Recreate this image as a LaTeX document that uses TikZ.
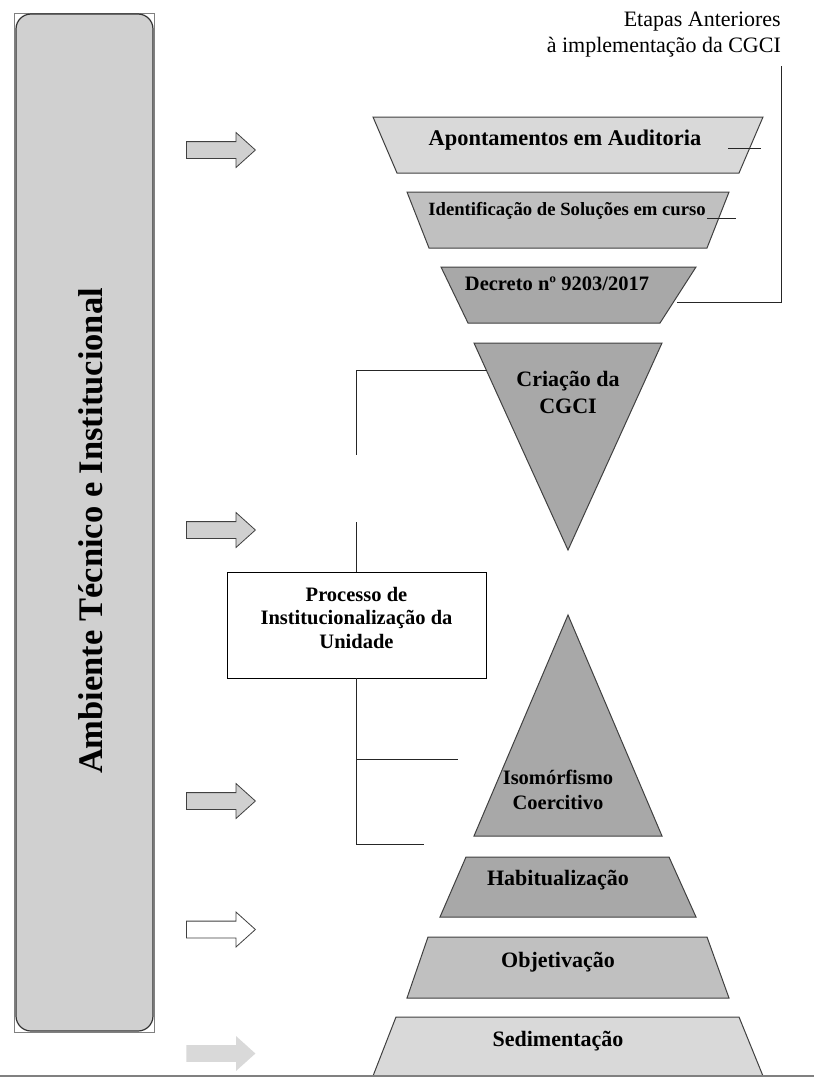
\documentclass[tikz,border=0pt]{standalone}
\usepackage{fontspec}
\setmainfont{Liberation Serif}
\usepackage{tikz}
\definecolor{lg}{RGB}{217, 217, 217}
\definecolor{mg}{RGB}{192, 192, 192}
\definecolor{dg}{RGB}{168, 168, 168}
\definecolor{pg}{RGB}{208, 208, 208}
\definecolor{eg}{RGB}{64, 64, 64}
\usetikzlibrary{positioning}
\usetikzlibrary{shapes.arrows}

\begin{document}
\begin{tikzpicture}[
every node/.style={inner sep=0pt},
stage/.style={line width=1pt, draw=eg},
lbl/.style={font=\bfseries\fontsize{22pt}{27pt}\selectfont, align=center},
blockarr/.style={single arrow, anchor=tail, minimum height=69pt, minimum width=34pt, inner sep=8pt, single arrow head extend=9pt, single arrow tip angle=84, line width=0.8pt, draw=eg, fill=pg},
link/.style={line width=0.9pt, color=black!85}
]
\useasboundingbox (0pt,0pt) rectangle (814pt,-1077pt);
% left panel
\draw [line width=0.5pt, color=gray] (14pt,-13pt) rectangle (154pt,-1032pt);
\filldraw [rounded corners=15pt, fill=pg, draw=black!80, line width=1.2pt] (16pt,-14pt) rectangle (153pt,-1031pt);
\node (amb) [rotate=90, anchor=base, font=\bfseries\fontsize{34.5pt}{40pt}\selectfont] at (102pt,-531pt) {Ambiente Técnico e Institucional};
% arrows
\node (arr1) [blockarr] at (186pt,-150pt) {};
\node (arr2) [blockarr] at (186pt,-530pt) {};
\node (arr3) [blockarr] at (186pt,-801pt) {};
\node (arr4) [blockarr, fill=white] at (186pt,-929.5pt) {};
\node (arr5) [blockarr, draw=none, fill=lg] at (186pt,-1053.5pt) {};
% earlier stages
\filldraw [stage, fill=lg] (373pt,-117pt) -- (763pt,-117pt) -- (739pt,-173pt) -- (397pt,-173pt) -- cycle;
\filldraw [stage, fill=mg] (407pt,-192pt) -- (729pt,-192pt) -- (707pt,-248pt) -- (429pt,-248pt) -- cycle;
\filldraw [stage, fill=dg] (441pt,-267pt) -- (696pt,-267pt) -- (660pt,-323pt) -- (468pt,-323pt) -- cycle;
\node (apont) [lbl, anchor=base, font=\bfseries\fontsize{22.4pt}{27pt}\selectfont] at (565pt,-145pt) {Apontamentos em Auditoria};
\node (ident) [lbl, anchor=base, font=\bfseries\fontsize{18.7pt}{22pt}\selectfont] at (567pt,-215pt) {Identificação de Soluções em curso};
\node (decreto) [lbl, anchor=base, font=\bfseries\fontsize{20.5pt}{24pt}\selectfont] at (557pt,-290pt) {Decreto nº 9203/2017};
\coordinate (apont-m1) at (728pt,-148pt);
\coordinate (apont-m2) at (761pt,-148pt);
\coordinate (ident-m1) at (707pt,-218pt);
\coordinate (ident-m2) at (736pt,-218pt);
\draw [link] (apont-m1) -- (apont-m2);
\draw [link] (ident-m1) -- (ident-m2);
\node (etapas) [anchor=east, align=right, font=\fontsize{22pt}{26pt}\selectfont] at (781pt,-34.5pt) {Etapas Anteriores\\à implementação da CGCI};
\coordinate (etapas-end) at (781pt,-66pt);
\coordinate (dec-e) at (677pt,-302pt);
\draw [link] (etapas-end) |- (dec-e);
% creation
\filldraw [stage, fill=dg] (474pt,-343pt) -- (662pt,-343pt) -- (568pt,-550pt) -- cycle;
\node (criacao) [lbl] at (568pt,-392pt) {Criação da\\CGCI};
% institutionalisation
\node (procbox) [draw=black, line width=0.9pt, minimum width=259pt, minimum height=106pt] at (356.5pt,-625pt) {};
\node (processo) [lbl, font=\bfseries\fontsize{20.5pt}{23.5pt}\selectfont] at (356.5pt,-617.5pt) {Processo de\\Institucionalização da\\Unidade};
\coordinate (cri-w) at (487pt,-370pt);
\coordinate (gap-top) at (356.5pt,-455pt);
\coordinate (gap-bot) at (356.5pt,-522pt);
\draw [link] (cri-w) -| (gap-top);
\draw [link] (gap-bot) -- (procbox.north);
\filldraw [stage, fill=dg] (568pt,-615pt) -- (662pt,-836pt) -- (474pt,-836pt) -- cycle;
\node (isomorf) [lbl, font=\bfseries\fontsize{20.5pt}{25pt}\selectfont] at (558pt,-789.5pt) {Isomórfismo\\Coercitivo};
\coordinate (iso-a) at (458pt,-759pt);
\coordinate (iso-b) at (424pt,-844pt);
\draw [link] (procbox.south) |- (iso-b);
\draw [link] (procbox.south |- iso-a) -- (iso-a);
% pyramid base
\filldraw [stage, fill=dg] (466pt,-857pt) -- (669pt,-857pt) -- (696pt,-917pt) -- (440pt,-917pt) -- cycle;
\filldraw [stage, fill=mg] (428pt,-937pt) -- (707pt,-937pt) -- (729pt,-998pt) -- (407pt,-998pt) -- cycle;
\filldraw [stage, fill=lg] (396pt,-1017pt) -- (739pt,-1017pt) -- (763pt,-1076pt) -- (373pt,-1076pt) -- cycle;
\node (habit) [lbl, anchor=base] at (558pt,-885pt) {Habitualização};
\node (objet) [lbl, anchor=base] at (558pt,-967pt) {Objetivação};
\node (sedim) [lbl, anchor=base] at (558pt,-1046pt) {Sedimentação};
\draw [line width=1.5pt, color=gray] (0pt,-1076pt) -- (814pt,-1076pt);
\end{tikzpicture}
\end{document}
